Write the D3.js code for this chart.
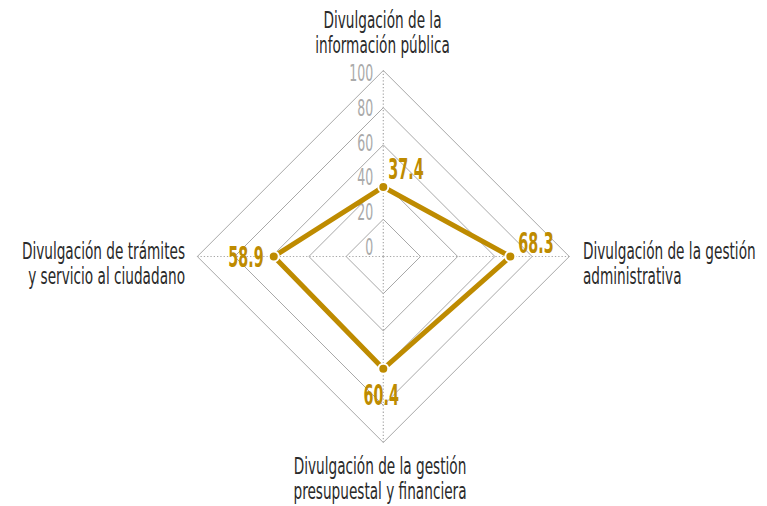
<!DOCTYPE html>
<html><head><meta charset="utf-8">
<script src="https://cdn.jsdelivr.net/npm/d3@7"></script>
<style>body{margin:0;background:#fff}svg{display:block}</style>
</head><body><svg id="c" width="767" height="506"></svg>
<script>
const categories = [
  ["Divulgación de la", "información pública"],
  ["Divulgación de la gestión", "administrativa"],
  ["Divulgación de la gestión", "presupuestal y financiera"],
  ["Divulgación de trámites", "y servicio al ciudadano"]
];
const values = [37.4, 68.3, 60.4, 58.9];
const ringLevels = [20, 40, 60, 80, 100];
const tickValues = [0, 20, 40, 60, 80, 100];

const W = 767, H = 506, cx = 383.3, cy = 256.5, R = 186;
const gold = "#BE8B00", grid = "#a8a8a8", textCol = "#2a2a2a";
const FONT = "'Liberation Sans Narrow','DejaVu Sans Condensed','Open Sans',sans-serif";

const svg = d3.select("#c");
const r = d3.scaleLinear().domain([0, 100]).range([0, R]);
const angle = d3.scaleLinear().domain([0, categories.length]).range([0, 2 * Math.PI]);
const px = (i, v) => cx + r(v) * Math.sin(angle(i));
const py = (i, v) => cy - r(v) * Math.cos(angle(i));
const tickY = d3.scaleLinear().domain([0, 100]).range([cy - 9.5, cy - 183.5]);

// rings
svg.append("g").selectAll("path").data(ringLevels).join("path")
  .attr("d", lv => d3.line()(categories.map((c, i) => [px(i, lv), py(i, lv)])) + "Z")
  .attr("fill", "none").attr("stroke", grid).attr("stroke-width", 1);

// axes (dotted)
svg.append("g").selectAll("line").data(categories).join("line")
  .attr("x1", cx).attr("y1", cy)
  .attr("x2", (d, i) => px(i, 100)).attr("y2", (d, i) => py(i, 100))
  .attr("stroke", grid).attr("stroke-width", 1.2).attr("stroke-dasharray", "1.3,2");

// tick labels
svg.append("g").selectAll("text").data(tickValues).join("text")
  .attr("transform", d => `translate(${cx - 10},${tickY(d) + 8}) scale(0.62,1)`)
  .attr("text-anchor", "end")
  .attr("font-family", FONT).attr("font-size", 22.5).attr("fill", "#aaaaaa")
  .text(d => d);

// polygon
const pts = values.map((v, i) => [px(i, v), py(i, v)]);
svg.append("path").attr("d", d3.line()(pts) + "Z")
  .attr("fill", "none").attr("stroke", gold).attr("stroke-width", 5).attr("stroke-linejoin", "miter");

svg.append("g").selectAll("circle").data(values).join("circle")
  .attr("cx", (v, i) => px(i, v)).attr("cy", (v, i) => py(i, v))
  .attr("r", 5).attr("fill", gold).attr("stroke", "#fff").attr("stroke-width", 2);

// value labels
const vOff = [[5, -8, "start"], [8, -4, "start"], [-2, 36, "middle"], [-10, 10, "end"]];
svg.append("g").selectAll("text").data(values).join("text")
  .attr("transform", (v, i) => `translate(${px(i, v) + vOff[i][0]},${py(i, v) + vOff[i][1]}) scale(0.57,1)`)
  .attr("text-anchor", (v, i) => vOff[i][2])
  .attr("font-family", FONT).attr("font-weight", "bold").attr("font-size", 28).attr("fill", gold)
  .text(v => v.toFixed(1));

// category labels
const labPos = [[382.5, 28, "middle"], [583, 259, "start"], [380, 474, "middle"], [185, 259, "end"]];
const lab = svg.append("g").selectAll("g").data(categories).join("g")
  .attr("transform", (d, i) => `translate(${labPos[i][0]},${labPos[i][1]}) scale(0.66,1)`);
lab.selectAll("text").data((d, i) => d.map(t => ({t, a: labPos[i][2]}))).join("text")
  .attr("y", (d, j) => j * 25)
  .attr("text-anchor", d => d.a)
  .attr("font-family", FONT).attr("font-size", 23).attr("fill", textCol)
  .text(d => d.t);
</script></body></html>
